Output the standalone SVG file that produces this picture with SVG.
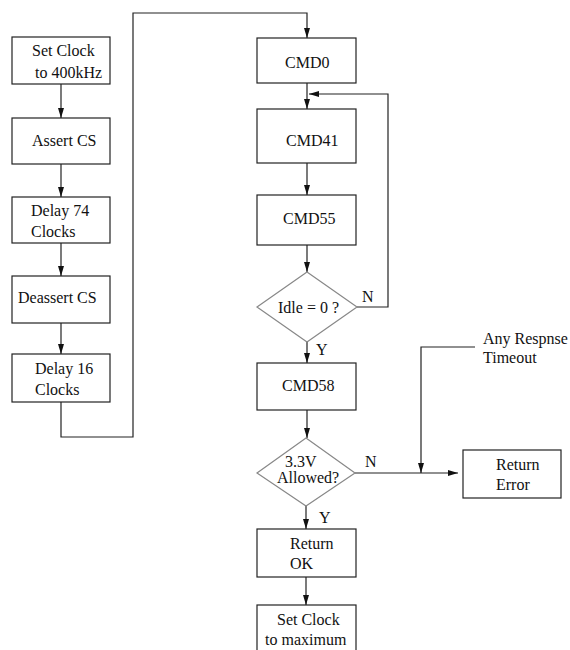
<svg xmlns="http://www.w3.org/2000/svg" width="570" height="650" viewBox="0 0 570 650">
<defs>
<marker id="ah" viewBox="0 0 10 6" refX="10" refY="3" markerWidth="10" markerHeight="6" markerUnits="userSpaceOnUse" orient="auto">
<path d="M0,0 L10,3 L0,6 Z" fill="#111"/>
</marker>
<style>
.box{fill:#fff;stroke:#222;stroke-width:1.2}
.dia{fill:#fff;stroke:#888;stroke-width:1.2}
.ln{fill:none;stroke:#222;stroke-width:1.2}
.ar{fill:none;stroke:#222;stroke-width:1.2;marker-end:url(#ah)}
text{font-family:"Liberation Serif","Times New Roman",serif;font-size:16px;fill:#111}
</style>
</defs>
<rect width="570" height="650" fill="#fff"/>
<g id="connectors">
<line class="ar" x1="61" y1="84" x2="61" y2="118"/>
<line class="ar" x1="61" y1="164" x2="61" y2="197"/>
<line class="ar" x1="61" y1="243" x2="61" y2="276"/>
<line class="ar" x1="61" y1="323" x2="61" y2="354"/>
<polyline class="ar" points="61,402 61,437 133,437 133,13 307,13 307,38"/>
<line class="ar" x1="307" y1="83" x2="307" y2="109"/>
<line class="ar" x1="307" y1="163" x2="307" y2="195"/>
<line class="ar" x1="307" y1="245" x2="307" y2="272"/>
<polyline class="ar" points="357,307 388,307 388,94 309,94"/>
<line class="ar" x1="307" y1="342" x2="307" y2="363"/>
<line class="ar" x1="307" y1="410" x2="307" y2="438"/>
<line class="ar" x1="306" y1="506" x2="306" y2="529"/>
<line class="ar" x1="306" y1="577" x2="306" y2="605"/>
<line class="ar" x1="355" y1="473" x2="458" y2="473"/>
<polyline class="ar" points="475,347 421,347 421,473"/>
</g>
<g id="n1"><rect class="box" x="12" y="37" width="98" height="47"/><text x="32" y="56">Set Clock</text><text x="35" y="78">to 400kHz</text></g>
<g id="n2"><rect class="box" x="12" y="118" width="98" height="46"/><text x="32" y="146">Assert CS</text></g>
<g id="n3"><rect class="box" x="12" y="197" width="98" height="46"/><text x="31" y="216">Delay 74</text><text x="31" y="237">Clocks</text></g>
<g id="n4"><rect class="box" x="12" y="276" width="98" height="47"/><text x="18" y="303">Deassert CS</text></g>
<g id="n5"><rect class="box" x="12" y="354" width="98" height="48"/><text x="35" y="374">Delay 16</text><text x="35" y="395">Clocks</text></g>
<g id="cmd0"><rect class="box" x="257" y="38" width="99" height="45"/><text x="285" y="68">CMD0</text></g>
<g id="cmd41"><rect class="box" x="257" y="109" width="99" height="54"/><text x="286" y="146">CMD41</text></g>
<g id="cmd55"><rect class="box" x="257" y="195" width="99" height="50"/><text x="283" y="224">CMD55</text></g>
<g id="idle"><polygon class="dia" points="307,272 357,307 307,342 257,307"/><text x="278" y="313">Idle = 0 ?</text></g>
<g id="cmd58"><rect class="box" x="257" y="363" width="99" height="47"/><text x="282" y="391">CMD58</text></g>
<g id="v33"><polygon class="dia" points="306,438 355,473 306,506 257,473"/><text x="285" y="467">3.3V</text><text x="277" y="483">Allowed?</text></g>
<g id="err"><rect class="box" x="463" y="450" width="98" height="48"/><text x="496" y="470">Return</text><text x="496" y="490">Error</text></g>
<g id="ok"><rect class="box" x="257" y="529" width="99" height="48"/><text x="290" y="549">Return</text><text x="290" y="569">OK</text></g>
<g id="max"><rect class="box" x="257" y="605" width="99" height="50"/><text x="277" y="625">Set Clock</text><text x="265" y="645">to maximum</text></g>
<g id="labels">
<text x="362" y="302">N</text>
<text x="316" y="355">Y</text>
<text x="365" y="467">N</text>
<text x="319" y="523">Y</text>
<text x="483" y="344">Any Respnse</text>
<text x="483" y="363">Timeout</text>
</g>
</svg>
